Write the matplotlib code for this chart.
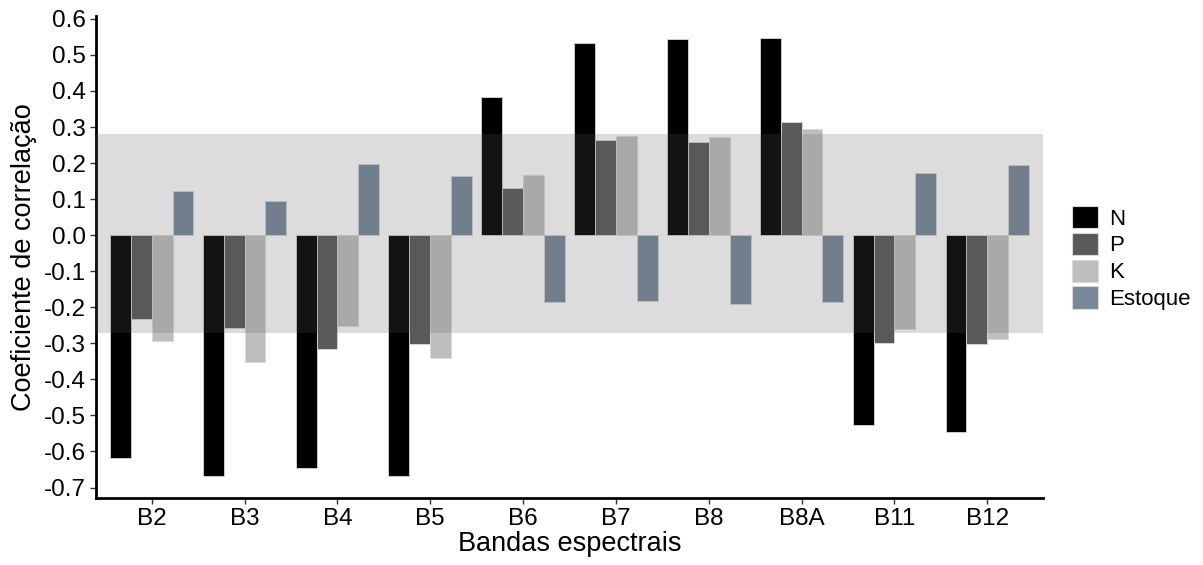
import matplotlib
matplotlib.use("Agg")
import matplotlib.pyplot as plt
import numpy as np
from matplotlib.patches import Patch

plt.rcParams['font.family'] = ['Liberation Sans', 'DejaVu Sans']

bands = ["B2", "B3", "B4", "B5", "B6", "B7", "B8", "B8A", "B11", "B12"]
N = [-0.618, -0.669, -0.647, -0.669, 0.383, 0.532, 0.543, 0.547, -0.526, -0.545]
P = [-0.233, -0.258, -0.315, -0.301, 0.130, 0.265, 0.258, 0.313, -0.298, -0.303]
K = [-0.293, -0.353, -0.253, -0.341, 0.166, 0.275, 0.273, 0.294, -0.260, -0.288]
Estoque = [0.122, 0.096, 0.198, 0.164, -0.184, -0.182, -0.191, -0.186, 0.173, 0.196]
series_names = ["N", "P", "K", "Estoque"]
band_low, band_high = -0.27, 0.28

colors = ["#000000", "#595959", "#BEBEBE", "#778899"]
series = [N, P, K, Estoque]

W, H = 1203, 565
fig = plt.figure(figsize=(W/100, H/100), dpi=100)
ax = fig.add_axes([96/W, 1-498/H, (1043-96)/W, (498-16)/H])

x = np.arange(1, len(bands)+1)
bw = 0.9/4
for i, (vals, c) in enumerate(zip(series, colors)):
    ax.bar(x + (i-1.5)*bw, vals, width=bw, color=c, edgecolor="#d9d9d9",
           linewidth=0.6, zorder=2)

ax.axhspan(band_low, band_high, color=(91/255, 91/255, 91/255), alpha=0.21,
           lw=0, zorder=3)

ax.set_xlim(0.4, 10.6)
ax.set_ylim(-0.729, 0.608)
ax.set_xticks(x)
ax.set_xticklabels(bands)
yt = np.round(np.arange(-0.7, 0.61, 0.1), 1)
ax.set_yticks(yt)
ax.set_yticklabels([f"{abs(v) if v == 0 else v:.1f}" for v in yt])
ax.tick_params(axis='both', labelsize=17.5, labelcolor='black', length=4,
               width=1, pad=3, color='#333333')
for s in ["top", "right"]:
    ax.spines[s].set_visible(False)
for s in ["left", "bottom"]:
    ax.spines[s].set_linewidth(2)
    ax.spines[s].set_color("black")
ax.set_xlabel("Bandas espectrais", fontsize=19.5, labelpad=1)
ax.set_ylabel("Coeficiente de correlação", fontsize=19.5, labelpad=5)

handles = [Patch(facecolor=c, edgecolor="#d9d9d9", linewidth=0.8) for c in colors]
fig.legend(handles, series_names, loc="upper left",
           bbox_to_anchor=(1072/W, 1-206/H), frameon=False, fontsize=16,
           handlelength=1.17, handleheight=1.17, handletextpad=0.5,
           labelspacing=0.14, borderaxespad=0, borderpad=0)

fig.savefig("out.png", dpi=100)
